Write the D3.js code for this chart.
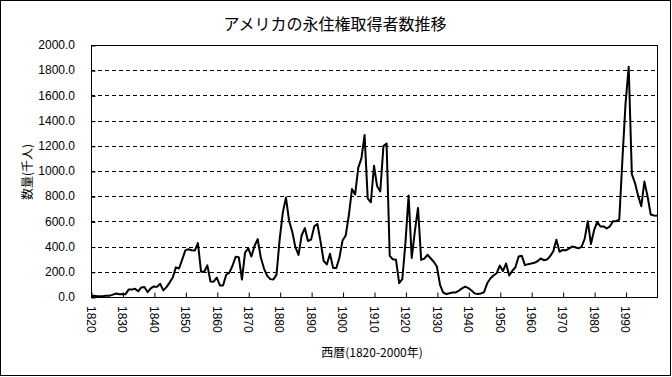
<!DOCTYPE html>
<html>
<head>
<meta charset="utf-8">
<script src="https://d3js.org/d3.v7.min.js"></script>
<style>
  body { margin: 0; background: #fff; }
  svg text { font-family: "Liberation Sans", Arial, sans-serif; fill: #000; }
  svg text.jp { font-family: "Noto Sans CJK JP", sans-serif; }
</style>
</head>
<body>
<script>
// immigrants admitted per year, thousands (1820 - 2000)
const startYear = 1820
const values = [
  8.4, 9.1, 6.9, 6.4, 7.9, 10.2, 10.8, 18.9, 27.4, 22.5,
  23.3, 22.6, 60.5, 58.6, 65.4, 45.4, 76.2, 79.3, 38.9, 68.1,
  84.1, 80.3, 104.6, 52.5, 78.6, 114.4, 154.4, 235.0, 226.5, 297.0,
  370.0, 379.5, 371.6, 368.6, 427.8, 200.9, 200.4, 251.3, 123.1, 121.3,
  153.6, 91.9, 92.0, 176.3, 193.4, 248.1, 318.6, 315.7, 138.8, 352.8,
  387.2, 321.4, 404.8, 460.0, 313.3, 227.5, 170.0, 141.9, 138.5, 177.8,
  457.3, 669.4, 789.0, 603.3, 518.6, 395.3, 334.2, 490.1, 547.0, 444.4,
  455.3, 560.3, 579.7, 439.7, 285.6, 258.5, 343.3, 230.8, 229.3, 311.7,
  448.6, 487.9, 648.7, 857.0, 812.9, 1026.5, 1100.7, 1285.3, 782.9, 751.8,
  1041.6, 878.6, 838.2, 1197.9, 1218.5, 326.7, 298.8, 295.4, 110.6, 141.1,
  430.0, 805.2, 309.6, 522.9, 706.9, 294.3, 304.5, 335.2, 307.3, 279.7,
  241.7, 97.1, 35.6, 23.1, 29.5, 35.0, 36.3, 50.2, 68.0, 83.0,
  70.8, 51.8, 28.8, 23.7, 28.6, 38.1, 108.7, 147.3, 170.6, 188.3,
  249.2, 205.7, 265.5, 170.4, 208.2, 237.8, 321.6, 326.9, 253.3, 260.7,
  265.4, 271.3, 283.8, 306.3, 292.2, 297.0, 323.0, 362.0, 454.4, 358.6,
  373.3, 370.5, 384.7, 400.1, 394.9, 386.2, 398.6, 462.3, 601.4, 420.0,
  530.6, 596.6, 560.0, 559.8, 543.9, 560.0, 601.7, 601.5, 615.0, 1090.9,
  1536.5, 1827.2, 974.0, 904.3, 804.4, 720.5, 915.9, 798.4, 654.5, 646.6,
  645.0
]
const xTicks = [1820, 1830, 1840, 1850, 1860, 1870, 1880, 1890, 1900, 1910, 1920, 1930, 1940, 1950, 1960, 1970, 1980, 1990]
const yTicks = [0, 200, 400, 600, 800, 1000, 1200, 1400, 1600, 1800, 2000]
const title = 'アメリカの永住権取得者数推移'
const xTitle = '西暦(1820-2000年)'
const yTitle = '数量(千人)'

const data = values.map((v, i) => ({ year: startYear + i, value: v }))

const width = 672
const height = 377
const plotL = 91, plotR = 657, plotT = 45, plotB = 297

const svg = d3.select('body').append('svg')
  .attr('width', width).attr('height', height)

svg.append('rect')
  .attr('x', 0.5).attr('y', 0.5)
  .attr('width', 670).attr('height', 375)
  .attr('fill', '#fff').attr('stroke', '#000')

const x = d3.scaleLinear().domain([1820, 2000]).range([plotL, plotR])
const y = d3.scaleLinear().domain([0, 2000]).range([plotB, plotT])

// gridlines
svg.append('g')
  .selectAll('line')
  .data(yTicks.filter(d => d > 0 && d < 2000))
  .join('line')
  .attr('x1', plotL).attr('x2', plotR)
  .attr('y1', d => Math.round(y(d)) + 0.5).attr('y2', d => Math.round(y(d)) + 0.5)
  .attr('stroke', '#000')
  .attr('stroke-dasharray', '4,3')

// plot border
svg.append('rect')
  .attr('x', plotL + 0.5).attr('y', plotT + 0.5)
  .attr('width', plotR - plotL).attr('height', plotB - plotT)
  .attr('fill', 'none').attr('stroke', '#000')

// y axis
const yAxis = svg.append('g')
  .attr('transform', 'translate(' + (plotL + 0.5) + ',0.5)')
  .call(d3.axisRight(y).tickValues(yTicks).tickSize(4).tickFormat(''))
yAxis.select('.domain').remove()

svg.append('g')
  .selectAll('text')
  .data(yTicks)
  .join('text')
  .attr('x', 75)
  .attr('y', d => y(d))
  .attr('dy', '0.35em')
  .attr('text-anchor', 'end')
  .style('font-size', '12px')
  .text(d => d.toFixed(1))

// x axis
const xAxis = svg.append('g')
  .attr('transform', 'translate(0.5,' + (plotB + 0.5) + ')')
  .call(d3.axisTop(x).tickValues(xTicks).tickSize(5).tickFormat(''))
xAxis.select('.domain').remove()

svg.append('g')
  .selectAll('text')
  .data(xTicks)
  .join('text')
  .attr('transform', d => 'translate(' + x(d) + ',306) rotate(90)')
  .attr('dy', '0.35em')
  .attr('text-anchor', 'start')
  .style('font-size', '12px')
  .text(d => d)

// line
const line = d3.line()
  .x(d => x(d.year))
  .y(d => y(d.value))

svg.append('path')
  .datum(data)
  .attr('d', line)
  .attr('fill', 'none')
  .attr('stroke', '#000')
  .attr('stroke-width', 2)
  .attr('stroke-linejoin', 'round')

// titles
svg.append('text')
  .attr('class', 'jp')
  .attr('x', 335).attr('y', 30)
  .attr('text-anchor', 'middle')
  .style('font-size', '16px')
  .text(title)

svg.append('text')
  .attr('class', 'jp')
  .attr('x', 372).attr('y', 357)
  .attr('text-anchor', 'middle')
  .style('font-size', '12px')
  .text(xTitle)

svg.append('text')
  .attr('class', 'jp')
  .attr('transform', 'translate(32,172) rotate(-90)')
  .attr('text-anchor', 'middle')
  .style('font-size', '12px')
  .text(yTitle)
</script>
</body>
</html>
